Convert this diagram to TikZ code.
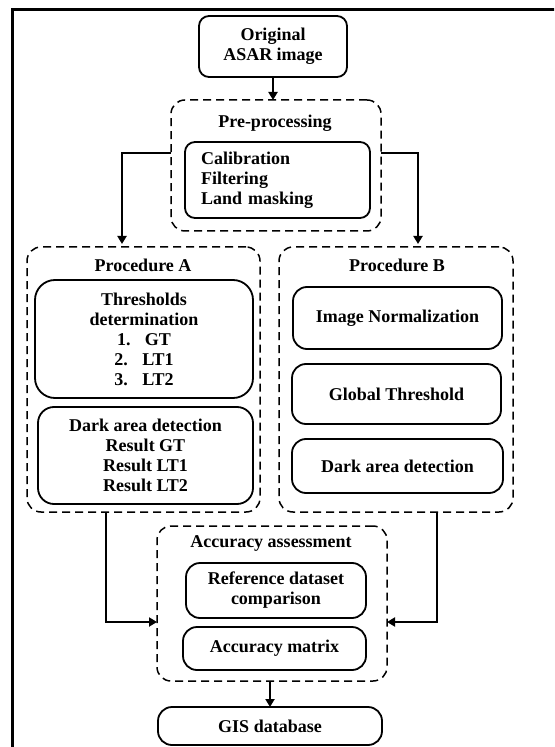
\documentclass[tikz,border=0pt]{standalone}
\usepackage{fontspec}
\setmainfont{Liberation Serif}
\usetikzlibrary{arrows.meta,positioning}

\begin{document}
\begin{tikzpicture}[
  x=0.5pt,y=-0.5pt,
  every node/.style={font=\fontsize{9}{10}\selectfont\bfseries},
  box/.style={draw,line width=0.9pt,rounded corners=5pt,align=center,inner sep=0pt,outer sep=0pt},
  group/.style={draw,line width=0.75pt,dash pattern=on 4pt off 2.5pt,rounded corners=7pt,inner sep=0pt,outer sep=0pt},
  title/.style={inner sep=0pt},
  arrow/.style={-{Triangle[length=4pt,width=4.5pt]},line width=1.2pt}
]
\useasboundingbox (0,0) rectangle (554,747);
\clip (0,0) rectangle (554,747);
\draw[line width=1.5pt] (12,10) rectangle (620,800);

% input and pre-processing
\node[box,minimum width=74pt,minimum height=30.5pt] (orig) at (273,46.5) {Original\\ASAR image};
\node[group,minimum width=105pt,minimum height=65.5pt] (pre) at (276,165.5) {};
\node[title] (pretitle) at (275,123) {Pre-processing};
\node[box,align=left,text width=76.5pt,inner xsep=8pt,minimum height=38pt] (prelist) at (277.5,180)
  {Calibration\\Filtering\\Land masking};

% procedure A
\node[group,minimum width=116.5pt,minimum height=132.5pt] (procA) at (143.5,379.5) {};
\node[title] (procAtitle) at (143,265) {Procedure A};
\node[box,rounded corners=10pt,minimum width=109pt,minimum height=59pt] (thresh) at (144,339)
  {Thresholds\\determination\\1.\hspace{0.8em}GT\\2.\hspace{0.8em}LT1\\3.\hspace{0.8em}LT2};
\node[box,rounded corners=8pt,minimum width=107.5pt,minimum height=48.5pt] (darkA) at (145.5,455.5)
  {Dark area detection\\Result GT\\Result LT1\\Result LT2};

% procedure B
\node[group,minimum width=117pt,minimum height=132.5pt] (procB) at (396,379.5) {};
\node[title] (procBtitle) at (397,265) {Procedure B};
\node[box,rounded corners=7pt,minimum width=104.5pt,minimum height=31pt] (norm) at (397.5,318) {Image Normalization};
\node[box,rounded corners=7pt,minimum width=104.5pt,minimum height=30pt] (glob) at (396.5,394) {Global Threshold};
\node[box,rounded corners=7pt,minimum width=105.5pt,minimum height=27pt] (darkB) at (397.5,466) {Dark area detection};

% accuracy and output
\node[group,minimum width=115pt,minimum height=77.5pt] (acc) at (272,603.5) {};
\node[title] (acctitle) at (271,543) {Accuracy assessment};
\node[box,rounded corners=7pt,minimum width=90pt,minimum height=27.5pt] (refcmp) at (276,590.5) {Reference dataset\\comparison};
\node[box,rounded corners=7pt,minimum width=91.5pt,minimum height=21.5pt] (accmat) at (274.5,648.5) {Accuracy matrix};
\node[box,rounded corners=7pt,minimum width=112pt,minimum height=19pt] (gis) at (270,726) {GIS database};

\draw[arrow] (orig.south) -- (orig.south |- pre.north);
\draw[arrow,shorten >=1.5pt] ([yshift=6.25pt]pre.west) -| ([xshift=-10.75pt]procA.north);
\draw[arrow,shorten >=1.5pt] ([yshift=6.25pt]pre.east) -| ([xshift=11pt]procB.north);
\draw[arrow] ([xshift=-18.75pt]procA.south) |- ([yshift=-9.25pt]acc.west);
\draw[arrow] ([xshift=20.5pt]procB.south) |- ([yshift=-9.25pt]acc.east);
\draw[arrow] (acc.south -| gis.north) -- (gis.north);
\end{tikzpicture}
\end{document}
